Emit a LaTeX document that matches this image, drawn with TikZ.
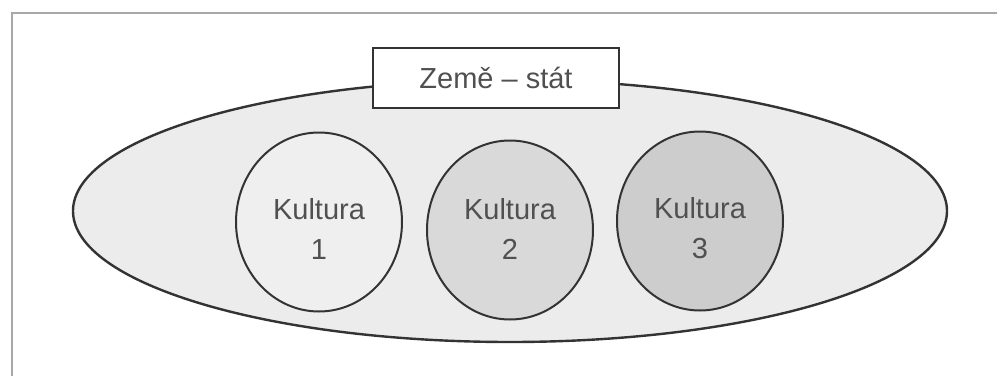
\documentclass[tikz,border=0pt]{standalone}
\usepackage{fontspec}
\setmainfont{Liberation Sans}
\usetikzlibrary{shapes.geometric}
\definecolor{framegray}{HTML}{A8A8A8}
\definecolor{linedark}{HTML}{333333}
\definecolor{txtgray}{HTML}{505050}
\definecolor{ellfill}{HTML}{ECECEC}
\definecolor{cfillA}{HTML}{EFEFEF}
\definecolor{cfillB}{HTML}{D9D9D9}
\definecolor{cfillC}{HTML}{CDCDCD}
\tikzset{
  culture/.style={ellipse, draw=linedark, line width=2pt, minimum width=166pt, minimum height=179pt, inner sep=0pt},
  culturetext/.style={align=center, text=txtgray, inner sep=0pt, font=\fontsize{29}{40}\selectfont},
  state/.style={ellipse, draw=linedark, line width=2.4pt, fill=ellfill, minimum width=874pt, minimum height=262pt, inner sep=0pt},
  titlebox/.style={rectangle, draw=linedark, line width=2pt, fill=white, minimum width=246pt, minimum height=60pt, inner sep=0pt, text=txtgray, font=\fontsize{29}{34}\selectfont}
}
\begin{document}
\begin{tikzpicture}[x=1pt,y=1pt]
\useasboundingbox (0,0) rectangle (997,376);
\fill[white] (0,0) rectangle (997,376);
\coordinate (ftl) at (12,363);
\coordinate (ftr) at (997,363);
\coordinate (fbl) at (12,0);
\draw[framegray, line width=2pt] (ftr) -- (ftl) -- (fbl);
\node[state] (country) at (510,165) {};
\node[culture, fill=cfillA] (k1) at (319,154) {};
\node[culture, fill=cfillB] (k2) at (510,146) {};
\node[culture, fill=cfillC] (k3) at (700,155) {};
\node[culturetext] (k1t) at (319,147) {Kultura\\1};
\node[culturetext] (k2t) at (510,147) {Kultura\\2};
\node[culturetext] (k3t) at (700,148) {Kultura\\3};
\node[titlebox] (title) at (496,298) {Země – stát};
\end{tikzpicture}
\end{document}
